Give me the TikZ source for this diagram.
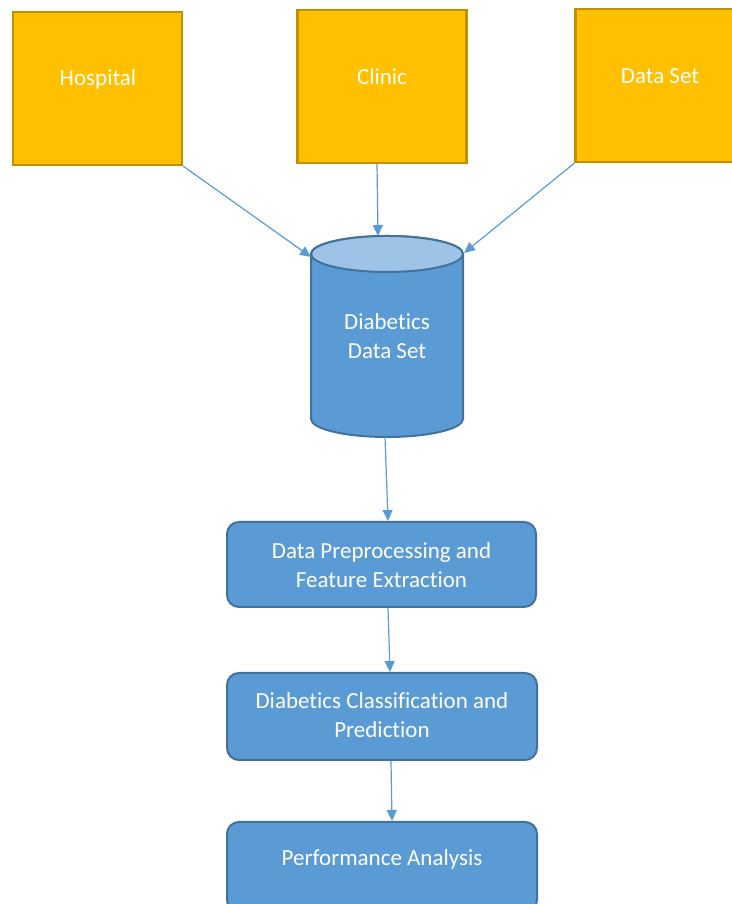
\documentclass[tikz,border=0pt]{standalone}
\usepackage{fontspec}
\setmainfont{Carlito}[Ligatures={NoCommon,NoRequired,NoContextual}]
\usetikzlibrary{arrows.meta,calc}
\definecolor{gold}{HTML}{FFC000}
\definecolor{goldline}{HTML}{BF9000}
\definecolor{bluefill}{HTML}{5B9BD5}
\definecolor{blueline}{HTML}{41719C}
\definecolor{bluetop}{HTML}{9DC3E6}
\begin{document}
\begin{tikzpicture}[x=1pt,y=1pt,
  srcbox/.style={draw=goldline,fill=gold,line width=2.2pt,minimum width=169pt,minimum height=153pt,inner sep=0pt},
  stepbox/.style={draw=blueline,fill=bluefill,line width=2pt,rounded corners=12pt,minimum width=309pt,inner sep=0pt},
  lbl/.style={text=white,font=\fontsize{23}{29}\selectfont,align=center,inner sep=0pt},
  conn/.style={draw=bluefill,line width=1.2pt,-{Triangle[length=11pt,width=10pt]}}]
\useasboundingbox (0,0) rectangle (731,904);
% sources
\node[srcbox] (hosp) at (97.5,815.5) {};
\node[srcbox] (clin) at (382,817.5) {};
\node[srcbox] (dset) at (660,818.5) {};
\node[lbl] (hosptxt) at (98,825) {Hospital};
\node[lbl] (clintxt) at (382,827) {Clinic};
\node[lbl] (dsettxt) at (660,828) {Data Set};
% cylinder
\path[draw=blueline,fill=bluefill,line width=2pt]
  (311,650) -- (311,485) arc (180:360:76 and 18) -- (463,650) arc (0:180:76 and 18) -- cycle;
\path[draw=blueline,fill=bluetop,line width=2pt] (387,650) ellipse (76 and 18);
\node[lbl] (cyltxt) at (387,568) {Diabetics\\Data Set};
\coordinate (cyltop) at (378,668);
\coordinate (cylleft) at (311,647);
\coordinate (cylright) at (464,651);
\coordinate (cylbot) at (385,467);
% steps
\node[stepbox,minimum height=85pt] (pre) at (381.5,339.5) {};
\node[lbl] (pretxt) at (381.5,339) {Data Preprocessing and\\Feature Extraction};
\node[stepbox,minimum height=87pt,minimum width=310pt] (cls) at (382,187.5) {};
\node[lbl] (clstxt) at (382,189) {Diabetics Classification and\\Prediction};
\node[stepbox,minimum height=90pt,minimum width=310pt] (perf) at (382,37) {};
\node[lbl] (perftxt) at (382,45) {Performance Analysis};
% connectors
\draw[conn] (hosp.south east) -- (cylleft);
\draw[conn] ([xshift=-5pt]clin.south) -- (cyltop);
\draw[conn] (dset.south west) -- (cylright);
\draw[conn] (cylbot) -- ([xshift=6.5pt]pre.north);
\draw[conn] ([xshift=6.5pt]pre.south) -- ([xshift=8pt]cls.north);
\draw[conn] ([xshift=9pt]cls.south) -- ([xshift=10pt]perf.north);
\end{tikzpicture}
\end{document}
